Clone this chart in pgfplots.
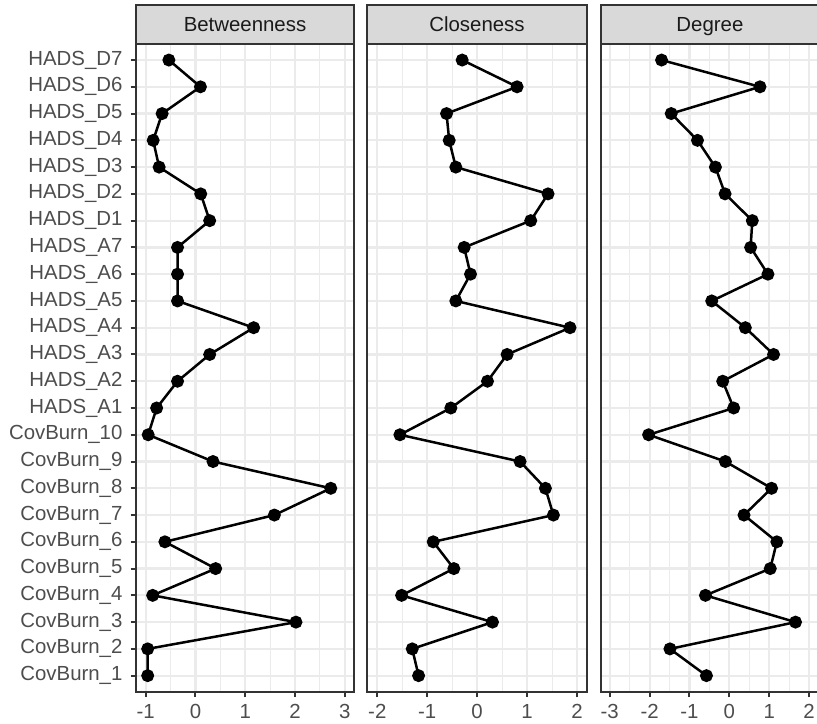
\documentclass[border=0pt]{standalone}
\usepackage{fontspec}
\setmainfont{Liberation Sans}
\usepackage{pgfplots}
\pgfplotsset{compat=1.18}
\usepackage{pgfplotstable}
\definecolor{grA}{HTML}{333333}
\definecolor{grB}{HTML}{D9D9D9}
\definecolor{grC}{HTML}{EBEBEB}
\definecolor{grD}{HTML}{4D4D4D}
\definecolor{grE}{HTML}{1A1A1A}

\pgfplotstableread{
y B C D
1 -0.96 -1.173 -0.575
2 -0.96 -1.30 -1.49
3 2.02 0.307 1.658
4 -0.86 -1.513 -0.60
5 0.406 -0.467 1.025
6 -0.614 -0.88 1.19
7 1.586 1.527 0.367
8 2.72 1.367 1.058
9 0.353 0.86 -0.10
10 -0.95 -1.547 -2.025
11 -0.78 -0.527 0.108
12 -0.36 0.207 -0.167
13 0.286 0.60 1.108
14 1.17 1.86 0.40
15 -0.36 -0.427 -0.442
16 -0.36 -0.133 0.967
17 -0.36 -0.26 0.533
18 0.286 1.073 0.575
19 0.106 1.42 -0.108
20 -0.73 -0.427 -0.35
21 -0.85 -0.56 -0.80
22 -0.67 -0.613 -1.458
23 0.10 0.80 0.767
24 -0.534 -0.30 -1.70
}\cent

\pgfplotsset{
  panel/.style={
    scale only axis, anchor=south west, height=323.85pt,
    ymin=0.4, ymax=24.6, ytick={1,...,24},
    xmajorgrids, xminorgrids, ymajorgrids, minor x tick num=1,
    major grid style={color=grC, line width=1.1pt},
    minor grid style={color=grC, line width=0.55pt},
    axis line style={grA, line width=1pt},
    tick style={grA, line width=1pt},
    major tick length=2.75pt, minor tick length=0pt,
    tick align=outside, xtick pos=bottom, ytick pos=left,
    ticklabel style={font=\fontsize{10.2}{12}\selectfont, text=grD},
    yticklabel style={xshift=-0.5pt},
  },
  cplot/.style={black, line width=1.25pt, mark=*, mark size=2.6pt,
    mark options={solid, fill=black, draw=none}},
}

\begin{document}
\begin{tikzpicture}
\begin{axis}[panel, at={(68pt,15.65pt)}, width=109pt,
  xmin=-1.195, xmax=3.187, xtick={-1,0,1,2,3}, xticklabels={-1,0,1,2,3},
  yticklabels={CovBurn\_1,CovBurn\_2,CovBurn\_3,CovBurn\_4,CovBurn\_5,CovBurn\_6,CovBurn\_7,CovBurn\_8,CovBurn\_9,CovBurn\_10,HADS\_A1,HADS\_A2,HADS\_A3,HADS\_A4,HADS\_A5,HADS\_A6,HADS\_A7,HADS\_D1,HADS\_D2,HADS\_D3,HADS\_D4,HADS\_D5,HADS\_D6,HADS\_D7}]
\addplot[cplot] table[x=B, y=y]{\cent};
\end{axis}
\begin{axis}[panel, at={(183.65pt,15.65pt)}, width=109.7pt,
  xmin=-2.2, xmax=2.194, xtick={-2,-1,0,1,2}, xticklabels={-2,-1,0,1,2},
  yticklabels={}, ytick style={draw=none}]
\addplot[cplot] table[x=C, y=y]{\cent};
\end{axis}
\begin{axis}[panel, at={(300.35pt,15.65pt)}, width=109.2pt,
  xmin=-3.226, xmax=2.25, xtick={-3,-2,-1,0,1,2}, xticklabels={-3,-2,-1,0,1,2},
  yticklabels={}, ytick style={draw=none}]
\addplot[cplot] table[x=D, y=y]{\cent};
\end{axis}
\draw[fill=grB, draw=grA, line width=1pt] (68pt,339.5pt) rectangle (177pt,359pt);
\draw[fill=grB, draw=grA, line width=1pt] (183.65pt,339.5pt) rectangle (293.35pt,359pt);
\draw[fill=grB, draw=grA, line width=1pt] (300.35pt,339.5pt) rectangle (409.55pt,359pt);
\node[text=grE, font=\fontsize{10.2}{12}\selectfont, anchor=base, inner sep=0pt] at (122.5pt,345.6pt) {Betweenness};
\node[text=grE, font=\fontsize{10.2}{12}\selectfont, anchor=base, inner sep=0pt] at (238.5pt,345.6pt) {Closeness};
\node[text=grE, font=\fontsize{10.2}{12}\selectfont, anchor=base, inner sep=0pt] at (354.95pt,345.6pt) {Degree};
\pgfresetboundingbox
\useasboundingbox (0,0) rectangle (408.5pt,361.5pt);
\end{tikzpicture}
\end{document}
